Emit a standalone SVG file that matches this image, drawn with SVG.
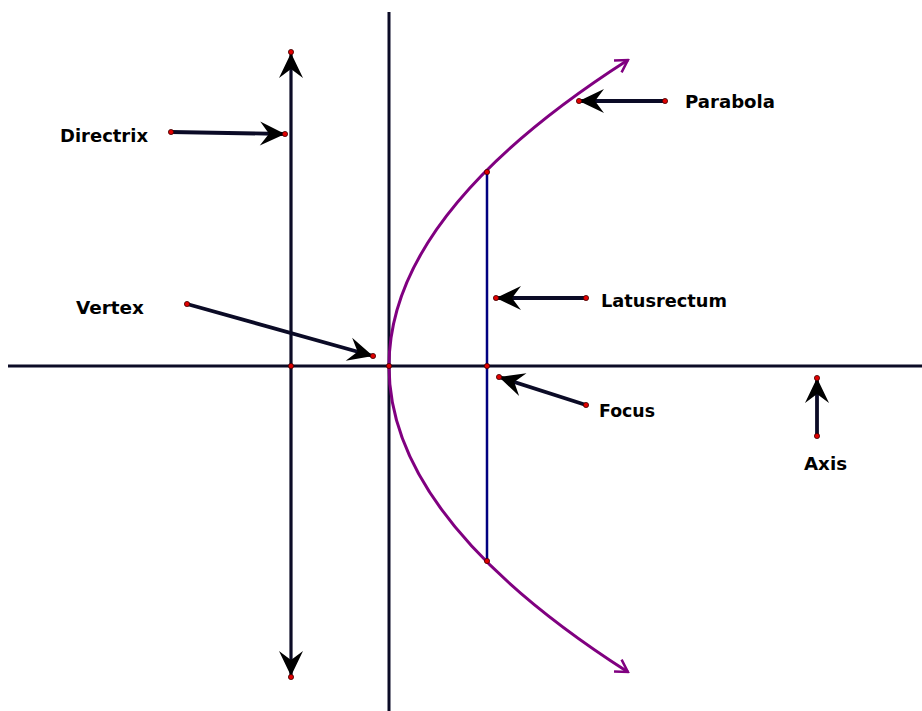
<svg xmlns="http://www.w3.org/2000/svg" width="922" height="711" viewBox="0 0 922 711">
<style>
.ax{stroke:#0b0b26;stroke-width:3;fill:none}
.lbl{font-family:"DejaVu Sans",Verdana,sans-serif;font-weight:bold;font-size:18px;fill:#000}
.ptr{stroke:#0b0b26;stroke-width:3.8;fill:none;marker-end:url(#head)}
.dot{fill:#e00000;stroke:#400000;stroke-width:0.8}
</style>
<defs>
<marker id="head" markerUnits="userSpaceOnUse" viewBox="-28 -15 30 30" refX="0" refY="0" markerWidth="30" markerHeight="30" orient="auto">
<path d="M0,0 L-25,-12 L-16,0 L-25,12 Z" fill="#000"/>
</marker>
<marker id="headd" markerUnits="userSpaceOnUse" viewBox="-28 -15 30 30" refX="0" refY="0" markerWidth="30" markerHeight="30" orient="auto-start-reverse">
<path d="M0,0 L-25,-12 L-16,0 L-25,12 Z" fill="#000"/>
</marker>
<marker id="chev" markerUnits="userSpaceOnUse" viewBox="-16 -10 18 20" refX="0" refY="0" markerWidth="18" markerHeight="20" orient="auto-start-reverse">
<path d="M-12,-7 L0,0 L-12,7" fill="none" stroke="#800080" stroke-width="2.5"/>
</marker>
</defs>
<rect width="922" height="711" fill="#fff"/>
<g id="connectors">
<line class="ax" x1="8" y1="366" x2="922" y2="366"/>
<line class="ax" x1="389" y1="12" x2="389" y2="711"/>
<line x1="291" y1="53" x2="291" y2="676" stroke="#0b0b26" stroke-width="3.2" marker-start="url(#headd)" marker-end="url(#headd)"/>
<path d="M627.9,60 Q150.1,366 627.9,672" fill="none" stroke="#800080" stroke-width="3" marker-start="url(#chev)" marker-end="url(#chev)"/>
<line x1="487" y1="172" x2="487" y2="561" stroke="#000080" stroke-width="2.5"/>
<line class="ptr" x1="171" y1="132" x2="285" y2="134"/>
<line class="ptr" x1="665" y1="101" x2="579" y2="101"/>
<line class="ptr" x1="586" y1="298" x2="496" y2="298"/>
<line class="ptr" x1="586" y1="405" x2="499" y2="377"/>
<line class="ptr" x1="817" y1="436" x2="817" y2="378"/>
<line class="ptr" x1="187" y1="304" x2="373" y2="356"/>
</g>
<g id="points">
<circle class="dot" cx="291" cy="52" r="2.6"/>
<circle class="dot" cx="291" cy="677" r="2.6"/>
<circle class="dot" cx="291" cy="366" r="2.6"/>
<circle class="dot" cx="389" cy="366" r="2.6"/>
<circle class="dot" cx="487" cy="366" r="2.6"/>
<circle class="dot" cx="487" cy="172" r="2.6"/>
<circle class="dot" cx="487" cy="561" r="2.6"/>
<circle class="dot" cx="171" cy="132" r="2.6"/>
<circle class="dot" cx="285" cy="134" r="2.6"/>
<circle class="dot" cx="665" cy="101" r="2.6"/>
<circle class="dot" cx="579" cy="101" r="2.6"/>
<circle class="dot" cx="586" cy="298" r="2.6"/>
<circle class="dot" cx="496" cy="298" r="2.6"/>
<circle class="dot" cx="586" cy="405" r="2.6"/>
<circle class="dot" cx="499" cy="377" r="2.6"/>
<circle class="dot" cx="817" cy="436" r="2.6"/>
<circle class="dot" cx="817" cy="378" r="2.6"/>
<circle class="dot" cx="187" cy="304" r="2.6"/>
<circle class="dot" cx="373" cy="356" r="2.6"/>
</g>
<g id="directrix"><text class="lbl" x="60" y="142" textLength="88" lengthAdjust="spacingAndGlyphs">Directrix</text></g>
<g id="parabola"><text class="lbl" x="685" y="108" textLength="90" lengthAdjust="spacingAndGlyphs">Parabola</text></g>
<g id="latusrectum"><text class="lbl" x="601" y="307" textLength="126" lengthAdjust="spacingAndGlyphs">Latusrectum</text></g>
<g id="focus"><text class="lbl" x="599" y="417" textLength="56" lengthAdjust="spacingAndGlyphs">Focus</text></g>
<g id="axis"><text class="lbl" x="804" y="470" textLength="43" lengthAdjust="spacingAndGlyphs">Axis</text></g>
<g id="vertex"><text class="lbl" x="76" y="314" textLength="68" lengthAdjust="spacingAndGlyphs">Vertex</text></g>
</svg>
